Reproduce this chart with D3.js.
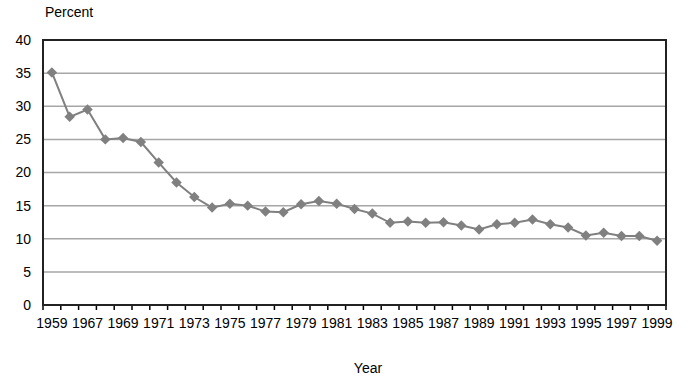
<!DOCTYPE html>
<html>
<head>
<meta charset="utf-8">
<script src="https://cdn.jsdelivr.net/npm/d3@7"></script>
<style>
  body { margin: 0; background: #fff; }
  text { font-family: Arial, "Liberation Sans", sans-serif; fill: #000; }
</style>
</head>
<body>
<div id="chart"></div>
<script>
// years on the category axis (1960-1965 are not in the series)
const years = [1959, 1966, 1967, 1968, 1969, 1970, 1971, 1972, 1973, 1974,
    1975, 1976, 1977, 1978, 1979, 1980, 1981, 1982, 1983, 1984,
    1985, 1986, 1987, 1988, 1989, 1990, 1991, 1992, 1993, 1994,
    1995, 1996, 1997, 1998, 1999];
const percents = [35.1, 28.4, 29.5, 25.0, 25.2, 24.6, 21.5, 18.5, 16.3, 14.7,
    15.3, 15.0, 14.1, 14.0, 15.2, 15.7, 15.3, 14.5, 13.8, 12.4,
    12.6, 12.4, 12.5, 12.0, 11.4, 12.2, 12.4, 12.9, 12.2, 11.7,
    10.5, 10.9, 10.4, 10.4, 9.7];
const yTicks = [0, 5, 10, 15, 20, 25, 30, 35, 40];
// only every other category gets a label
const xLabels = years.filter((d, i) => i % 2 === 0);

const width = 700, height = 381;
const margin = { top: 40, right: 34, bottom: 76, left: 43 };
const innerW = width - margin.left - margin.right;
const innerH = height - margin.top - margin.bottom;

const svg = d3.select('#chart').append('svg')
    .attr('width', width)
    .attr('height', height);

const g = svg.append('g')
    .attr('transform', `translate(${margin.left},${margin.top})`);

const x = d3.scaleBand()
    .domain(years)
    .range([0, innerW]);

const y = d3.scaleLinear()
    .domain([0, 40])
    .range([innerH, 0]);

// gridlines
g.selectAll('.grid')
    .data(yTicks.filter(d => d > 0 && d < 40))
    .enter().append('line')
    .attr('class', 'grid')
    .attr('x1', 0)
    .attr('x2', innerW)
    .attr('y1', d => y(d))
    .attr('y2', d => y(d))
    .attr('stroke', '#a6a6a6')
    .attr('stroke-width', 1.5);

// y labels
g.selectAll('.ylab')
    .data(yTicks)
    .enter().append('text')
    .attr('class', 'ylab')
    .attr('x', -12)
    .attr('y', d => y(d))
    .attr('dy', '0.35em')
    .attr('text-anchor', 'end')
    .style('font-size', '14px')
    .text(d => d);

// x axis: ticks between categories
const xAxis = g.append('g')
    .attr('transform', `translate(0,${innerH})`);

xAxis.selectAll('.xtick')
    .data(d3.range(years.length + 1))
    .enter().append('line')
    .attr('class', 'xtick')
    .attr('x1', i => i * x.step())
    .attr('x2', i => i * x.step())
    .attr('y1', 0)
    .attr('y2', 5)
    .attr('stroke', '#000')
    .attr('stroke-width', 1.5);

xAxis.selectAll('.xlab')
    .data(xLabels)
    .enter().append('text')
    .attr('class', 'xlab')
    .attr('x', d => x(d) + x.bandwidth() / 2)
    .attr('y', 23)
    .attr('text-anchor', 'middle')
    .style('font-size', '14px')
    .text(d => d);

// plot border
g.append('rect')
    .attr('x', 0)
    .attr('y', 0)
    .attr('width', innerW)
    .attr('height', innerH)
    .attr('fill', 'none')
    .attr('stroke', '#222')
    .attr('stroke-width', 2);

// line + diamonds
const line = d3.line()
    .x((d, i) => x(years[i]) + x.bandwidth() / 2)
    .y(d => y(d));

g.append('path')
    .datum(percents)
    .attr('d', line)
    .attr('fill', 'none')
    .attr('stroke', '#808080')
    .attr('stroke-width', 2);

g.selectAll('.marker')
    .data(percents)
    .enter().append('path')
    .attr('class', 'marker')
    .attr('transform', (d, i) => `translate(${x(years[i]) + x.bandwidth() / 2},${y(d)})`)
    .attr('d', d3.symbol().type(d3.symbolDiamond2).size(70))
    .attr('fill', '#808080');

// titles
svg.append('text')
    .attr('x', 45)
    .attr('y', 17)
    .style('font-size', '14px')
    .text('Percent');

svg.append('text')
    .attr('x', 368)
    .attr('y', 373)
    .attr('text-anchor', 'middle')
    .style('font-size', '14px')
    .text('Year');
</script>
</body>
</html>
